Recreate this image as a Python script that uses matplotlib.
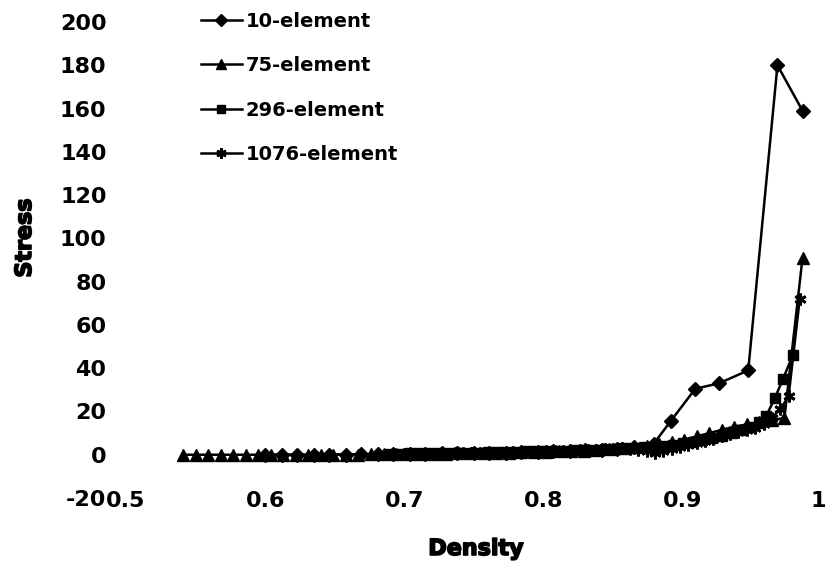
import matplotlib
matplotlib.use("Agg")
import matplotlib.pyplot as plt
import matplotlib.patheffects as pe
import matplotlib.transforms as mtransforms

plt.rcParams["axes.unicode_minus"] = False

# ---- data ----
x10 = [0.600, 0.612, 0.623, 0.635, 0.646, 0.658, 0.669, 0.681, 0.692, 0.704,
       0.715, 0.727, 0.738, 0.750, 0.761, 0.773, 0.784, 0.796, 0.807, 0.819,
       0.830, 0.842, 0.853, 0.865, 0.879, 0.8915, 0.909, 0.926, 0.947, 0.968, 0.986]
y10 = [0, 0, 0, 0, 0.1, 0.1, 0.2, 0.2, 0.3, 0.4,
       0.5, 0.6, 0.7, 0.8, 0.9, 1.0, 1.2, 1.4, 1.6, 1.8,
       2.0, 2.4, 2.8, 3.4, 5.0, 15.7, 30.5, 33, 39, 180, 159]

x75 = [0.541, 0.550, 0.559, 0.568, 0.577, 0.586, 0.595, 0.604, 0.613, 0.622,
       0.631, 0.640, 0.649, 0.658, 0.667, 0.676, 0.685, 0.694, 0.703, 0.712,
       0.721, 0.730, 0.739, 0.748, 0.757, 0.766, 0.775, 0.784, 0.793, 0.802,
       0.811, 0.820, 0.829, 0.838, 0.847, 0.856, 0.865, 0.874, 0.883, 0.892,
       0.901, 0.910, 0.919, 0.928, 0.937, 0.946, 0.955, 0.964, 0.973, 0.986]
y75 = [0, 0, 0, 0, 0, 0, 0, 0, 0, 0,
       0, 0, 0, 0.1, 0.1, 0.2, 0.2, 0.3, 0.3, 0.4,
       0.5, 0.5, 0.6, 0.7, 0.8, 0.9, 1.0, 1.1, 1.2, 1.3,
       1.5, 1.7, 1.9, 2.2, 2.5, 2.9, 3.4, 4.0, 4.8, 5.7,
       7.0, 8.5, 10, 11.5, 13, 14, 15, 16, 17, 91]

x296 = [0.690, 0.697, 0.704, 0.711, 0.718, 0.725, 0.732, 0.739, 0.746, 0.753,
        0.760, 0.767, 0.774, 0.781, 0.788, 0.795, 0.802, 0.809, 0.816, 0.823,
        0.830, 0.837, 0.844, 0.851, 0.858, 0.865, 0.872, 0.879, 0.886, 0.893,
        0.900, 0.907, 0.914, 0.921, 0.928, 0.935, 0.942, 0.949, 0.955, 0.960,
        0.966, 0.972, 0.979]
y296 = [0.5, 0.5, 0.6, 0.6, 0.7, 0.7, 0.8, 0.9, 0.9, 1.0,
        1.1, 1.2, 1.3, 1.4, 1.5, 1.6, 1.7, 1.8, 1.9, 2.0,
        2.1, 2.3, 2.5, 2.7, 2.9, 3.1, 3.4, 3.8, 4.2, 4.7,
        5.3, 6.0, 6.8, 7.7, 8.8, 10, 11.5, 13, 15, 18,
        26, 35, 46]

x1076 = [0.700, 0.706, 0.712, 0.718, 0.724, 0.730, 0.736, 0.742, 0.748, 0.754,
         0.760, 0.766, 0.772, 0.778, 0.784, 0.790, 0.796, 0.802, 0.808, 0.814,
         0.820, 0.826, 0.832, 0.838, 0.844, 0.850, 0.856, 0.862, 0.868, 0.874,
         0.880, 0.886, 0.892, 0.898, 0.904, 0.910, 0.916, 0.922, 0.928, 0.934,
         0.940, 0.946, 0.952, 0.958, 0.964, 0.970, 0.976, 0.984]
y1076 = [0.3, 0.3, 0.4, 0.4, 0.5, 0.5, 0.6, 0.6, 0.7, 0.8,
         0.8, 0.9, 1.0, 1.1, 1.2, 1.3, 1.4, 1.5, 1.6, 1.7,
         1.8, 2.0, 2.2, 2.4, 2.6, 2.8, 3.0, 2.5, 2.0, 1.5,
         1.0, 1.5, 2.5, 3.5, 4.5, 5.5, 6.5, 7.5, 8.5, 9.5,
         10.5, 11.5, 12.5, 14, 17, 21, 27, 72]

labels = ["10-element", "75-element", "296-element", "1076-element"]
xticks = [0.5, 0.6, 0.7, 0.8, 0.9, 1.0]
xticklabels = ["0.5", "0.6", "0.7", "0.8", "0.9", "1"]
yticks = [-20, 0, 20, 40, 60, 80, 100, 120, 140, 160, 180, 200]

# ---- figure ----
fig = plt.figure(figsize=(8.27, 5.65), dpi=100)
ax = fig.add_axes([126 / 827, 1 - 498 / 565, (822 - 126) / 827, (498 - 22) / 565])

lw = 1.8
ax.plot(x10, y10, color="black", lw=lw, marker="D", ms=7, label=labels[0], clip_on=False)
ax.plot(x75, y75, color="black", lw=lw, marker="^", ms=8, label=labels[1], clip_on=False)
ax.plot(x296, y296, color="black", lw=lw, marker="s", ms=7, label=labels[2], clip_on=False)
ax.plot(x1076, y1076, color="black", lw=lw, marker=(6, 2, 0), ms=8.5, mew=2,
        label=labels[3], clip_on=False)

ax.set_xlim(0.5, 1.0)
ax.set_ylim(-20, 200)
ax.set_xticks(xticks)
ax.set_xticklabels(xticklabels)
ax.set_yticks(yticks)

for s in ax.spines.values():
    s.set_visible(False)
ax.tick_params(axis="both", length=0, labelsize=16)
ax.tick_params(axis="y", pad=14)
ax.tick_params(axis="x", pad=-5)
for t in ax.get_xticklabels() + ax.get_yticklabels():
    t.set_fontweight("bold")
    t.set_family("DejaVu Sans")
# keep the last x label ("1") inside the picture edge
last = ax.get_xticklabels()[-1]
last.set_transform(last.get_transform() +
                   mtransforms.ScaledTranslation(-4 / 100, 0, fig.dpi_scale_trans))

thick = [pe.withStroke(linewidth=1.2, foreground="black")]
fig.text(476 / 827, 1 - 549 / 565, "Density", ha="center", va="center",
         fontsize=16, fontweight="bold", path_effects=thick)
fig.text(25 / 827, 1 - 238 / 565, "Stress", ha="center", va="center",
         rotation=90, fontsize=16, fontweight="bold", path_effects=thick)

leg = ax.legend(loc="upper left", bbox_to_anchor=(201 / 827, 1 - 12 / 565),
                bbox_transform=fig.transFigure, frameon=False,
                prop={"size": 14, "weight": "bold"}, handlelength=2.1,
                handletextpad=0.2, labelspacing=1.3, borderpad=0,
                borderaxespad=0, markerscale=0.85)

fig.savefig("out.png", dpi=100)
